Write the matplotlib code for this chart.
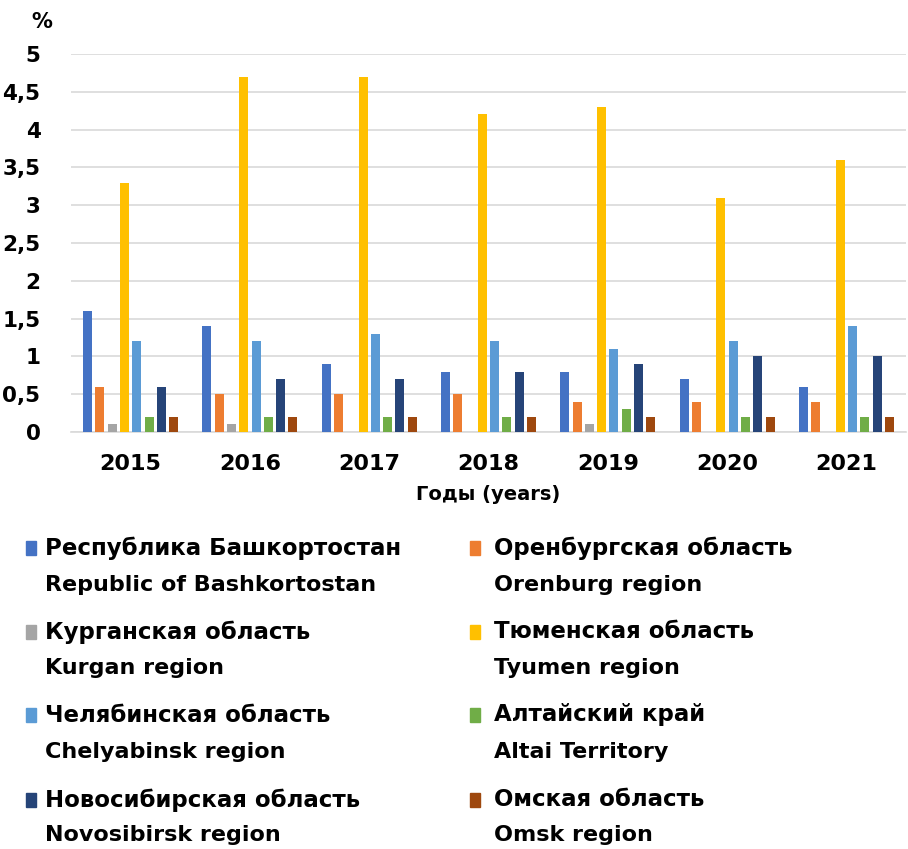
import matplotlib
matplotlib.use("Agg")
import matplotlib.pyplot as plt
import numpy as np

years = ["2015", "2016", "2017", "2018", "2019", "2020", "2021"]
series_ru = ["Республика Башкортостан", "Оренбургская область", "Курганская область",
             "Тюменская область", "Челябинская область", "Алтайский край",
             "Новосибирская область", "Омская область"]
series_en = ["Republic of Bashkortostan", "Orenburg region", "Kurgan region",
             "Tyumen region", "Chelyabinsk region", "Altai Territory",
             "Novosibirsk region", "Omsk region"]
bashkortostan = [1.6, 1.4, 0.9, 0.8, 0.8, 0.7, 0.6]
orenburg = [0.6, 0.5, 0.5, 0.5, 0.4, 0.4, 0.4]
kurgan = [0.1, 0.1, 0.0, 0.0, 0.1, 0.0, 0.0]
tyumen = [3.3, 4.7, 4.7, 4.2, 4.3, 3.1, 3.6]
chelyabinsk = [1.2, 1.2, 1.3, 1.2, 1.1, 1.2, 1.4]
altai = [0.2, 0.2, 0.2, 0.2, 0.3, 0.2, 0.2]
novosibirsk = [0.6, 0.7, 0.7, 0.8, 0.9, 1.0, 1.0]
omsk = [0.2, 0.2, 0.2, 0.2, 0.2, 0.2, 0.2]
values = [bashkortostan, orenburg, kurgan, tyumen, chelyabinsk, altai, novosibirsk, omsk]
colors = ["#4472C4", "#ED7D31", "#A5A5A5", "#FFC000", "#5B9BD5", "#70AD47", "#264478", "#9E480E"]
yticks = [0, 0.5, 1, 1.5, 2, 2.5, 3, 3.5, 4, 4.5, 5]
ytick_labels = ["0", "0,5", "1", "1,5", "2", "2,5", "3", "3,5", "4", "4,5", "5"]

plt.rcParams['font.family'] = ['DejaVu Sans']
fig = plt.figure(figsize=(9.08, 8.49), dpi=100)
W, H = 908, 849
ax = fig.add_axes([71 / W, 1 - 432 / H, (906 - 71) / W, (432 - 54) / H])

x = np.arange(len(years))
slot = 0.103
bw = 0.075
n = len(values)
for i, (vals, c) in enumerate(zip(values, colors)):
    off = (i - (n - 1) / 2) * slot
    ax.bar(x + off, vals, width=bw, color=c, zorder=3)

ax.set_xlim(-0.5, len(years) - 0.5)
ax.set_ylim(0, 5)
ax.set_yticks(yticks)
ax.set_yticklabels(ytick_labels, fontsize=15.5, fontweight='bold')
ax.set_xticks(x)
ax.set_xticklabels(years, fontsize=16, fontweight='bold')
ax.tick_params(axis='both', length=0)
ax.tick_params(axis='y', pad=22)
ax.tick_params(axis='x', pad=16)
ax.grid(axis='y', color='#D9D9D9', linewidth=1.2, zorder=0)
for s in ['top', 'right', 'left']:
    ax.spines[s].set_visible(False)
ax.spines['bottom'].set_color('#D9D9D9')
ax.spines['bottom'].set_linewidth(1.2)
ax.set_xlabel("Годы (years)", fontsize=14, fontweight='bold', labelpad=8)

fig.text(42 / W, 1 - 22 / H, "%", fontsize=15, fontweight='bold', ha='center', va='center')

# legend (manual layout)
rows_y = [(548, 585), (632, 668), (715, 752), (800, 835)]
cols_x = [(26, 45), (470, 494)]
for i in range(n):
    r, col = i // 2, i % 2
    sq_x, tx = cols_x[col]
    ry, ey = rows_y[r]
    fig.patches.append(plt.Rectangle((sq_x / W, 1 - (ry + 7) / H), 10 / W, 14 / H,
                                     transform=fig.transFigure, color=colors[i], figure=fig))
    fig.text(tx / W, 1 - ry / H, series_ru[i], fontsize=16.5, fontweight='bold', va='center', ha='left')
    fig.text(tx / W, 1 - ey / H, series_en[i], fontsize=16, fontweight='bold', va='center', ha='left')

fig.savefig("out.png", dpi=100)
